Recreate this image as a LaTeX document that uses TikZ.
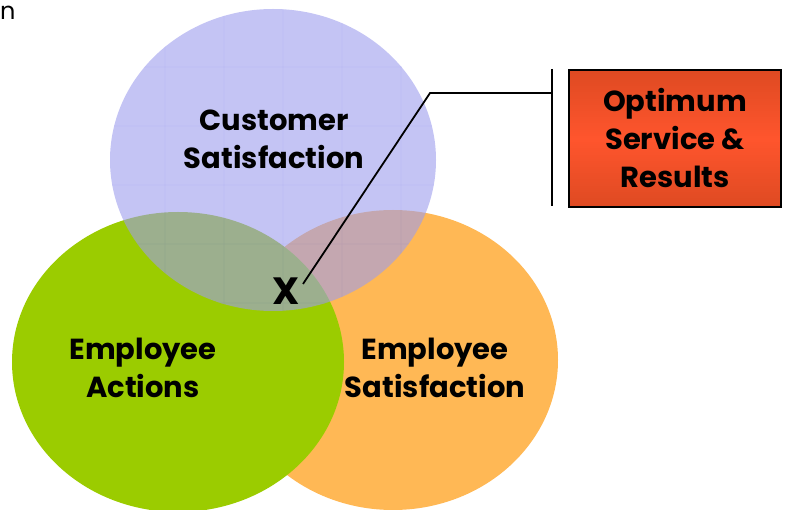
\documentclass[tikz,border=0pt]{standalone}
\usepackage{fontspec}
\setmainfont{Poppins}[BoldFont={Poppins Bold}]
\usetikzlibrary{positioning}
\definecolor{cblue}{RGB}{157,157,237}
\definecolor{cgrid}{RGB}{140,140,235}
\definecolor{cgreen}{RGB}{155,204,0}
\definecolor{corange}{RGB}{255,184,85}
\definecolor{rdark}{RGB}{222,74,34}
\definecolor{rlight}{RGB}{255,85,45}
\tikzset{
  lbl/.style={font=\fontsize{29}{38}\selectfont\bfseries, align=center, text=black},
  lead/.style={draw=black, line width=1.8pt},
}
\begin{document}
\begin{tikzpicture}[x=1pt,y=-1pt]
\useasboundingbox (0,0) rectangle (785,510);
\begin{scope}
\clip (0,0) rectangle (785,510);
% circles
\fill[corange] (393,360) ellipse [x radius=165, y radius=150];
\fill[cgreen] (178,362) ellipse [x radius=166, y radius=150];
\begin{scope}[opacity=0.6, transparency group]
\fill[cblue] (273,160) ellipse [x radius=163, y radius=151];
\begin{scope}
\clip (273,160) ellipse [x radius=163, y radius=151];
\foreach \gx in {106,165,224,283,342,401} \draw[cgrid, line width=0.8pt] (\gx,0) -- (\gx,320);
\foreach \gy in {8,67,126,185,244,303} \draw[cgrid, line width=0.8pt] (100,\gy) -- (440,\gy);
\end{scope}
\end{scope}
\end{scope}
% stray text
\node[font=\fontsize{24}{24}\selectfont, anchor=west, inner sep=0pt] (frag) at (0,13) {n};
% labels
\node[lbl] (cust) at (274,139) {Customer\\Satisfaction};
\node[lbl] (act) at (143,368) {Employee\\Actions};
\node[lbl] (esat) at (435,368) {Employee\\Satisfaction};
\node[font=\fontsize{38}{38}\selectfont\bfseries, inner sep=1pt] (xmark) at (286,291) {X};
% result box
\node[draw=black, line width=2pt, minimum width=212pt, minimum height=137pt,
      top color=rdark, bottom color=rdark, middle color=rlight,
      lbl, anchor=north west] (res) at (568,69) {Optimum\\Service \&\\Results};
% leader
\coordinate (xend) at (303,284);
\coordinate (bend) at (430,93);
\coordinate (btop) at (552,69);
\coordinate (bbot) at (552,206);
\coordinate (bmid) at (552,93);
\draw[lead] (xend) -- (bend) -- (bmid);
\draw[lead] (btop) -- (bbot);
\end{tikzpicture}
\end{document}
